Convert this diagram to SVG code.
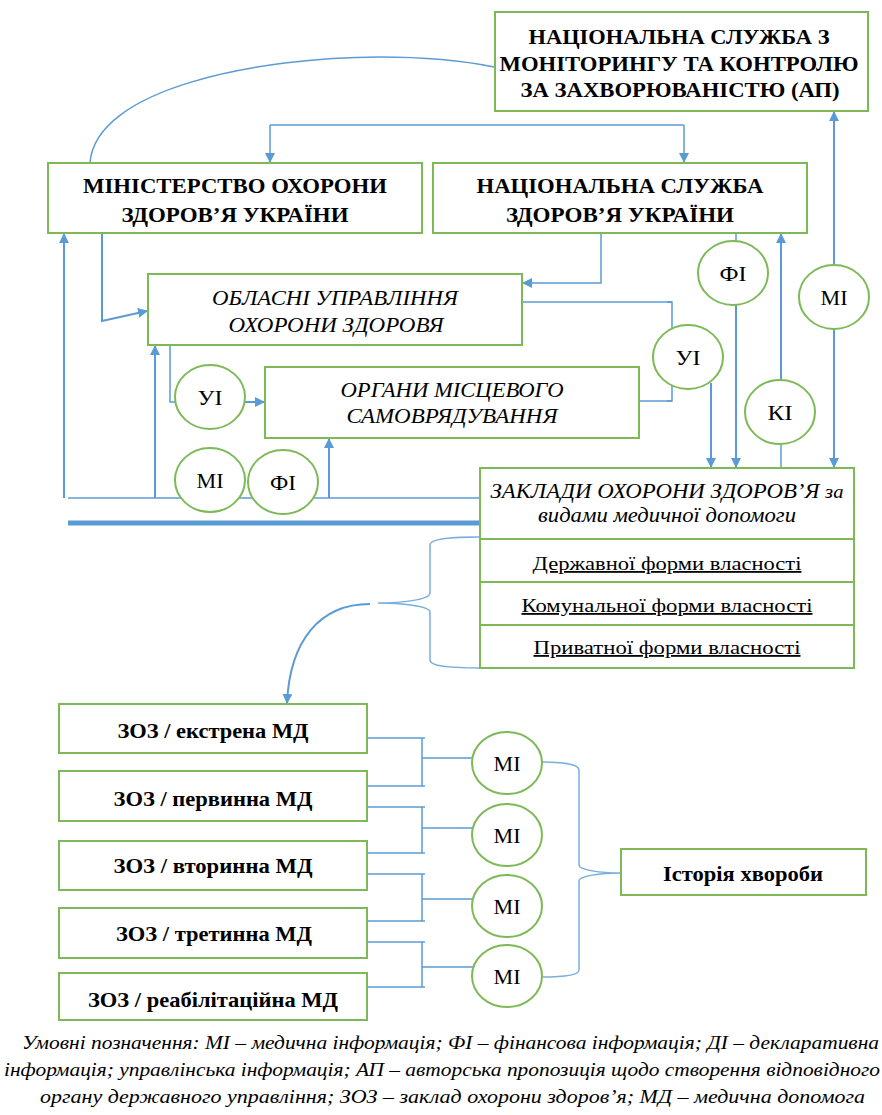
<svg xmlns="http://www.w3.org/2000/svg" width="882" height="1115" viewBox="0 0 882 1115">
<defs>
<marker id="ah" viewBox="0 0 10 10" refX="9" refY="5" markerWidth="10" markerHeight="10" markerUnits="userSpaceOnUse" orient="auto-start-reverse">
<path d="M0,0 L10,5 L0,10 z" fill="#5B9BD5"/>
</marker>
<style>
.box{fill:#fff;stroke:#7DB957;stroke-width:2}
.circ{fill:#fff;stroke:#7DB957;stroke-width:2}
.ln{fill:none;stroke:#5B9BD5;stroke-width:1.5}
.ln2{fill:none;stroke:#5B9BD5;stroke-width:2}
.br{fill:none;stroke:#7AAEDD;stroke-width:1.5}
text{font-family:"Liberation Serif","Times New Roman",serif;fill:#000}
.tb{font-weight:bold;font-size:22px;text-anchor:middle}
.ti{font-style:italic;font-size:21px;text-anchor:middle}
.tc{font-size:21px;text-anchor:middle}
.tu{font-size:18px;text-anchor:middle;text-decoration:underline}
.tz{font-weight:bold;font-size:21px;text-anchor:middle}
.leg{font-style:italic;font-size:18px}
</style>
</defs>
<rect width="882" height="1115" fill="#fff"/>

<g id="connectors">
<path class="ln" d="M90,163 C95,88 260,57 380,57 C430,57 470,62 494,67"/>
<path class="ln" d="M270,125 H684"/>
<path class="ln" d="M270,125 V162" marker-end="url(#ah)"/>
<path class="ln" d="M684,125 V162" marker-end="url(#ah)"/>
<path class="ln2" d="M64,498 V234" marker-end="url(#ah)"/>
<path class="ln2" d="M102,233 V321 L147,311" marker-end="url(#ah)"/>
<path class="ln" d="M601,233 V283 H523" marker-end="url(#ah)"/>
<path class="ln" d="M522,302 H672 V330"/>
<path class="ln" d="M667,302 H672 M667,401 H672"/>
<path class="ln" d="M672,385 V401 H639"/>
<path class="ln2" d="M711,383 V467" marker-end="url(#ah)"/>
<path class="ln" d="M170,343 V402 H178"/>
<path class="ln2" d="M245,402 H264" marker-end="url(#ah)"/>
<path class="ln2" d="M155,498 V346" marker-end="url(#ah)"/>
<path class="ln2" d="M329,498 V439" marker-end="url(#ah)"/>
<path class="ln" d="M68,498 H480"/>
<path fill="none" stroke="#5B9BD5" stroke-width="5" d="M68,523 H480"/>
<path class="ln" d="M736,233 V242"/>
<path class="ln2" d="M736,304 V467" marker-end="url(#ah)"/>
<path class="ln" d="M781,467 V442"/>
<path class="ln2" d="M781,381 V234" marker-end="url(#ah)"/>
<path class="ln2" d="M834,112 V467" marker-start="url(#ah)" marker-end="url(#ah)"/>
<path class="br" d="M480,537 C455,537 430,538 430,545 V593 C430,600 400,603 378,603 C400,603 430,606 430,612 V660 C430,667 455,668 480,668"/>
<path class="ln2" d="M370,604 C320,604 290,640 287,703" marker-end="url(#ah)"/>
<path class="ln" d="M367,738 H425 M367,786 H425 M422,738 V786 M422,758 H474"/>
<path class="ln" d="M367,807 H425 M367,853 H425 M422,807 V853 M422,828 H474"/>
<path class="ln" d="M367,874 H425 M367,921 H425 M422,874 V921 M422,899 H474"/>
<path class="ln" d="M367,942 H425 M367,987 H425 M422,942 V987 M422,967 H474"/>
<path class="br" d="M542,762 C560,762 579,764 579,770 V865 C579,870 600,873 621,873 C600,873 579,876 579,881 V970 C579,976 560,977 542,977"/>
</g>

<g id="n_monitoring">
<rect class="box" x="495" y="12" width="373" height="99"/>
<text class="tb" x="679" y="44" textLength="301" lengthAdjust="spacingAndGlyphs">НАЦІОНАЛЬНА СЛУЖБА З</text>
<text class="tb" x="679" y="71" textLength="359" lengthAdjust="spacingAndGlyphs">МОНІТОРИНГУ ТА КОНТРОЛЮ</text>
<text class="tb" x="680" y="97" textLength="319" lengthAdjust="spacingAndGlyphs">ЗА ЗАХВОРЮВАНІСТЮ (АП)</text>
</g>
<g id="n_ministry">
<rect class="box" x="48" y="163" width="374" height="70"/>
<text class="tb" x="235" y="193" textLength="304" lengthAdjust="spacingAndGlyphs">МІНІСТЕРСТВО ОХОРОНИ</text>
<text class="tb" x="235" y="222" textLength="227" lengthAdjust="spacingAndGlyphs">ЗДОРОВ’Я УКРАЇНИ</text>
</g>
<g id="n_nszu">
<rect class="box" x="433" y="163" width="374" height="70"/>
<text class="tb" x="620" y="193" textLength="287" lengthAdjust="spacingAndGlyphs">НАЦІОНАЛЬНА СЛУЖБА</text>
<text class="tb" x="620" y="222" textLength="228" lengthAdjust="spacingAndGlyphs">ЗДОРОВ’Я УКРАЇНИ</text>
</g>
<g id="n_oblast">
<rect class="box" x="148" y="274" width="374" height="71"/>
<text class="ti" x="335" y="305" textLength="246" lengthAdjust="spacingAndGlyphs">ОБЛАСНІ УПРАВЛІННЯ</text>
<text class="ti" x="336" y="332" textLength="215" lengthAdjust="spacingAndGlyphs">ОХОРОНИ ЗДОРОВЯ</text>
</g>
<g id="n_oms">
<rect class="box" x="265" y="367" width="374" height="71"/>
<text class="ti" x="452" y="397" textLength="223" lengthAdjust="spacingAndGlyphs">ОРГАНИ МІСЦЕВОГО</text>
<text class="ti" x="452" y="423" textLength="211" lengthAdjust="spacingAndGlyphs">САМОВРЯДУВАННЯ</text>
</g>
<g id="n_zaklady">
<rect class="box" x="480" y="468" width="374" height="200"/>
<line x1="480" y1="539" x2="854" y2="539" stroke="#7DB957" stroke-width="2"/>
<line x1="480" y1="582" x2="854" y2="582" stroke="#7DB957" stroke-width="2"/>
<line x1="480" y1="625" x2="854" y2="625" stroke="#7DB957" stroke-width="2"/>
<text class="ti" x="667" y="498" textLength="353" lengthAdjust="spacingAndGlyphs">ЗАКЛАДИ ОХОРОНИ ЗДОРОВ’Я <tspan font-size="19">за</tspan></text>
<text class="ti" x="667" y="522" font-size="19" textLength="258" lengthAdjust="spacingAndGlyphs">видами медичної допомоги</text>
<text class="tu" x="667" y="570" textLength="269" lengthAdjust="spacingAndGlyphs">Державної форми власності</text>
<text class="tu" x="667" y="612" textLength="291" lengthAdjust="spacingAndGlyphs">Комунальної форми власності</text>
<text class="tu" x="667" y="654" textLength="267" lengthAdjust="spacingAndGlyphs">Приватної форми власності</text>
</g>
<g id="c_fi_top"><ellipse class="circ" cx="733" cy="273" rx="35" ry="32"/><text class="tc" x="733" y="281" textLength="27" lengthAdjust="spacingAndGlyphs">ФІ</text></g>
<g id="c_mi_right"><ellipse class="circ" cx="834" cy="297" rx="35" ry="32"/><text class="tc" x="834" y="305" textLength="27" lengthAdjust="spacingAndGlyphs">МІ</text></g>
<g id="c_ui_right"><ellipse class="circ" cx="688" cy="357" rx="35" ry="32"/><text class="tc" x="688" y="365" textLength="25" lengthAdjust="spacingAndGlyphs">УІ</text></g>
<g id="c_ki"><ellipse class="circ" cx="780" cy="412" rx="35" ry="32"/><text class="tc" x="780" y="420" textLength="25" lengthAdjust="spacingAndGlyphs">КІ</text></g>
<g id="c_ui_left"><ellipse class="circ" cx="210" cy="397" rx="35" ry="32"/><text class="tc" x="210" y="405" textLength="25" lengthAdjust="spacingAndGlyphs">УІ</text></g>
<g id="c_mi_left"><ellipse class="circ" cx="210" cy="480" rx="35" ry="32"/><text class="tc" x="210" y="488" textLength="27" lengthAdjust="spacingAndGlyphs">МІ</text></g>
<g id="c_fi_left"><ellipse class="circ" cx="283" cy="482" rx="35" ry="32"/><text class="tc" x="283" y="490" textLength="26" lengthAdjust="spacingAndGlyphs">ФІ</text></g>

<g id="n_zoz1"><rect class="box" x="59" y="704" width="308" height="49"/><text class="tz" x="213" y="738" textLength="191" lengthAdjust="spacingAndGlyphs">ЗОЗ / екстрена МД</text></g>
<g id="n_zoz2"><rect class="box" x="59" y="771" width="308" height="50"/><text class="tz" x="213" y="806" textLength="199" lengthAdjust="spacingAndGlyphs">ЗОЗ / первинна МД</text></g>
<g id="n_zoz3"><rect class="box" x="59" y="841" width="308" height="49"/><text class="tz" x="213" y="873" textLength="199" lengthAdjust="spacingAndGlyphs">ЗОЗ / вторинна МД</text></g>
<g id="n_zoz4"><rect class="box" x="59" y="908" width="308" height="50"/><text class="tz" x="214" y="941" textLength="196" lengthAdjust="spacingAndGlyphs">ЗОЗ / третинна МД</text></g>
<g id="n_zoz5"><rect class="box" x="59" y="973" width="308" height="47"/><text class="tz" x="213" y="1007" textLength="250" lengthAdjust="spacingAndGlyphs">ЗОЗ / реабілітаційна МД</text></g>

<g id="c_mi1"><ellipse class="circ" cx="507" cy="763" rx="35" ry="31"/><text class="tc" x="507" y="771" textLength="27" lengthAdjust="spacingAndGlyphs">МІ</text></g>
<g id="c_mi2"><ellipse class="circ" cx="507" cy="835" rx="35" ry="31"/><text class="tc" x="507" y="843" textLength="27" lengthAdjust="spacingAndGlyphs">МІ</text></g>
<g id="c_mi3"><ellipse class="circ" cx="507" cy="906" rx="35" ry="31"/><text class="tc" x="507" y="914" textLength="27" lengthAdjust="spacingAndGlyphs">МІ</text></g>
<g id="c_mi4"><ellipse class="circ" cx="507" cy="976" rx="35" ry="31"/><text class="tc" x="507" y="984" textLength="27" lengthAdjust="spacingAndGlyphs">МІ</text></g>

<g id="n_history"><rect class="box" x="621" y="849" width="245" height="46"/><text class="tz" x="743" y="881" textLength="160" lengthAdjust="spacingAndGlyphs">Історія хвороби</text></g>

<g id="legend">
<text class="leg" x="22" y="1049" textLength="857" lengthAdjust="spacingAndGlyphs">Умовні позначення: МІ – медична інформація; ФІ – фінансова інформація; ДІ – декларативна</text>
<text class="leg" x="4" y="1076" textLength="876" lengthAdjust="spacingAndGlyphs">інформація; управлінська інформація; АП – авторська пропозиція щодо створення відповідного</text>
<text class="leg" x="40" y="1103" textLength="825" lengthAdjust="spacingAndGlyphs">органу державного управління; ЗОЗ – заклад охорони здоров’я; МД – медична допомога</text>
</g>
</svg>
